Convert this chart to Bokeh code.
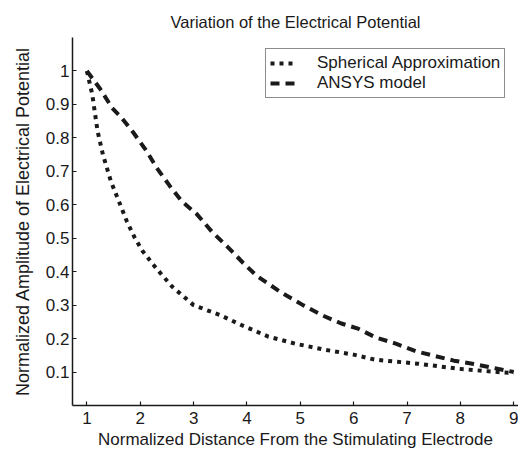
from bokeh.plotting import figure
from bokeh.models import FixedTicker, Legend, LegendItem, Title
from bokeh.embed import file_html
from bokeh.resources import INLINE

# Data
x_sph = [1.0, 1.1, 1.2, 1.3, 1.45, 1.6, 1.75, 1.9, 2.05, 2.3, 2.6, 3.0, 3.5, 3.9,
         4.4, 4.9, 5.45, 6.0, 6.4, 7.2, 7.95, 8.7, 9.0]
y_sph = [1.0, 0.93, 0.82, 0.75, 0.67, 0.61, 0.55, 0.50, 0.46, 0.41, 0.355, 0.30, 0.27, 0.24,
         0.206, 0.185, 0.167, 0.152, 0.137, 0.125, 0.11, 0.10, 0.097]

x_ans = [1.0, 1.25, 1.47, 1.65, 1.87, 2.12, 2.31, 2.55, 2.78, 3.06, 3.34, 3.65, 3.93, 4.18,
         4.64, 5.05, 5.42, 5.77, 6.08, 6.42, 6.79, 7.17, 7.5, 7.88, 8.25, 8.57, 9.0]
y_ans = [1.0, 0.946, 0.89, 0.86, 0.816, 0.76, 0.71, 0.657, 0.61, 0.572, 0.52, 0.472, 0.426, 0.388,
         0.338, 0.30, 0.269, 0.245, 0.23, 0.203, 0.185, 0.162, 0.149, 0.134, 0.124, 0.114, 0.10]

x_ticks = [1, 2, 3, 4, 5, 6, 7, 8, 9]
y_ticks = [0.1, 0.2, 0.3, 0.4, 0.5, 0.6, 0.7, 0.8, 0.9, 1.0]
y_tick_labels = ["0.1", "0.2", "0.3", "0.4", "0.5", "0.6", "0.7", "0.8", "0.9", "1"]

series_names = ["Spherical Approximation", "ANSYS model"]
title_text = "Variation of the Electrical Potential"
x_label = "Normalized Distance From the Stimulating Electrode"
y_label = "Normalized Amplitude of Electrical Potential"

FONT = "Liberation Sans"
INK = "#1a1a1a"

p = figure(width=518, height=452, output_backend="svg", toolbar_location=None,
           x_range=(0.73, 9.09), y_range=(0.0, 1.1),
           min_border_left=71, min_border_right=0, min_border_top=37, min_border_bottom=47,
           title=title_text)
p.outline_line_color = None
p.grid.visible = False
p.background_fill_color = "white"
p.border_fill_color = "white"

p.title.text_font = FONT
p.title.text_font_size = "16.5px"
p.title.text_font_style = "normal"
p.title.align = "center"
p.title.text_color = INK
p.title.standoff = 13

for ax in (p.xaxis[0], p.yaxis[0]):
    ax.axis_line_color = INK
    ax.axis_line_width = 1.5
    ax.major_tick_in = 4
    ax.major_tick_out = 0
    ax.major_tick_line_color = INK
    ax.major_tick_line_width = 1.2
    ax.minor_tick_line_color = None
    ax.major_label_text_font = FONT
    ax.major_label_text_font_size = "17px"
    ax.major_label_text_color = INK
    ax.axis_label_text_font = FONT
    ax.axis_label_text_font_size = "17px"
    ax.axis_label_text_font_style = "normal"
    ax.axis_label_text_color = INK

p.xaxis.ticker = FixedTicker(ticks=x_ticks)
p.yaxis.ticker = FixedTicker(ticks=y_ticks)
p.yaxis.major_label_overrides = {t: l for t, l in zip(y_ticks, y_tick_labels)}
p.xaxis.axis_label = x_label
p.xaxis.major_label_standoff = 6
p.xaxis.axis_label_standoff = 3
p.yaxis.major_label_standoff = 3

# y-axis title as a left-side title so it can be shifted up like in the reference
ytitle = Title(text=y_label, align="center", offset=12, standoff=20,
               text_font=FONT, text_font_size="18px", text_font_style="normal",
               text_color=INK)
p.add_layout(ytitle, "left")

r1 = p.line(x_sph, y_sph, line_color=INK, line_width=4, line_dash="4 5", line_cap="butt")
r2 = p.line(x_ans, y_ans, line_color=INK, line_width=4, line_dash="9 6", line_cap="butt")

legend = Legend(items=[LegendItem(label=series_names[0], renderers=[r1]),
                       LegendItem(label=series_names[1], renderers=[r2])],
                location=(193, 307))
legend.margin = 0
legend.padding = 4
legend.spacing = 0
legend.glyph_width = 26
legend.glyph_height = 20
legend.label_height = 20
legend.label_standoff = 21
legend.label_text_font = FONT
legend.label_text_font_size = "17px"
legend.label_text_color = INK
legend.border_line_color = INK
legend.border_line_width = 1.3
legend.background_fill_color = "white"
legend.background_fill_alpha = 1.0
p.add_layout(legend)

open("out.html", "w").write(file_html(p, INLINE))
